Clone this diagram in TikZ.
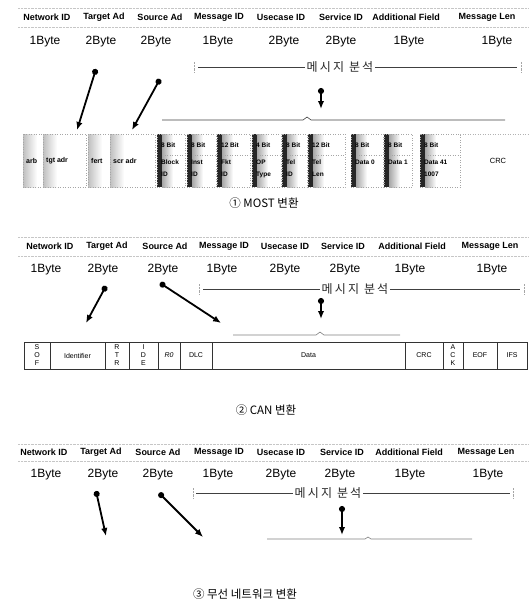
\documentclass[tikz,border=0pt]{standalone}
\usepackage{fontspec}
\setmainfont{Liberation Sans}
\newfontfamily\kr{Noto Sans CJK KR}
\newfontfamily\krsp[LetterSpace=18]{Noto Sans CJK KR}
\usetikzlibrary{arrows.meta}
\begin{document}
\begin{tikzpicture}[x=1pt,y=-1pt,
  hdr/.style={font=\bfseries\fontsize{9}{10}\selectfont, inner sep=0pt},
  byt/.style={font=\fontsize{12}{13}\selectfont, inner sep=0pt},
  msg/.style={font=\krsp\fontsize{12}{13}\selectfont, fill=white, inner sep=1.5pt, text=black!85},
  captxt/.style={font=\kr\fontsize{11.5}{13}\selectfont, inner sep=0pt},
  ptr/.style={line width=1.8pt, arrows={Circle[length=6pt]-Latex[length=8pt,width=6.5pt]}},
  brk/.style={line width=0.6pt, black!75},
  tickln/.style={gray!70, line width=0.4pt, densely dotted},
  mt/.style={font=\bfseries\fontsize{6.5}{12}\selectfont, inner sep=0pt, align=left},
  lt/.style={font=\bfseries\fontsize{7}{8}\selectfont, inner sep=0pt},
  ct/.style={font=\fontsize{7}{8}\selectfont, inner sep=0pt, align=center},
  hl/.style={gray!45, densely dotted, line width=0.4pt},
  cellbox/.style={draw=black!80, line width=0.7pt},
]
\useasboundingbox (0,0) rectangle (529,602);

% ================= Section 1 : MOST =================
\draw[hl] (18,8) -- (529,8);
\draw[hl] (18,27) -- (529,27);
\foreach \t/\x [count=\i] in {Network ID/47,Target Ad/104,Source Ad/160,Message ID/219,Usecase ID/281,Service ID/341,Additional Field/406,Message Len/487}
  \node[hdr] (h1-\i) at (\x,17) {\t};
\foreach \t/\x [count=\i] in {1Byte/45,2Byte/101,2Byte/156,1Byte/218,2Byte/284,2Byte/341,1Byte/409,1Byte/497}
  \node[byt] (b1-\i) at (\x,42) {\t};

\coordinate (l1) at (198,67);
\coordinate (r1) at (517,67);
\node[msg] (m1) at (340,67) {메시지 분석};
\draw[brk] (l1) -- (m1.west);
\draw[brk] (m1.east) -- (r1);
\draw[tickln] (194,62) -- (194,72);
\draw[tickln] (521,62) -- (521,72);

\coordinate (t1s) at (96,69);  \coordinate (t1e) at (77,130);
\coordinate (s1s) at (160,79); \coordinate (s1e) at (132,130);
\coordinate (c1s) at (321,88); \coordinate (c1e) at (321,109);
\draw[ptr] (t1s) -- (t1e);
\draw[ptr] (s1s) -- (s1e);
\draw[ptr] (c1s) -- (c1e);

\draw[brk] (162,120) -- (303,120) -- (307,117) -- (311,120) -- (505,120);

% light cells
\foreach \a/\b/\t [count=\i] in {23/43/arb,43/86/tgt adr,88/110/fert,110/155/scr adr}{
  \shade[left color=gray!50, right color=white] (\a,134) rectangle (\a+14,187);
  \draw[gray!70, dotted, line width=0.5pt] (\a,134) rectangle (\b,187);
  \node[lt, anchor=west] (lc-\i) at (\a+3,161) {\t};
}
% dark cells
\foreach \a/\b/\top/\bot [count=\i] in {157/185/8 Bit/{Block\\ID},187/216/8 Bit/{Inst\\ID},217/250/12 Bit/{Fkt\\ID},252/281/4 Bit/{OP\\Type},282/307/8 Bit/{Tel\\ID},308/345/12 Bit/{Tel\\Len},351/383/8 Bit/{Data 0},384/412/8 Bit/{Data 1},420/460/8 Bit/{Data 41\\1007}}{
  \shade[left color=gray!70, right color=white] (\a+5,134) rectangle (\a+16,187);
  \fill[black!85] (\a,134) rectangle (\a+5,187);
  \draw[gray!70, dotted, line width=0.5pt] (\a,134) rectangle (\b,187);
  \draw[gray!70, dotted, line width=0.5pt] (\a+5,155) -- (\b,155);
  \node[mt, anchor=west] (dt-\i) at (\a+4,145) {\top};
  \node[mt, anchor=north west] (db-\i) at (\a+4,160) {\bot};
}
\draw[gray!60, dotted, line width=0.5pt] (460,134) -- (529,134);
\node[lt, font=\fontsize{7.5}{8}\selectfont] (crc1) at (498,161) {CRC};

\node[captxt] (cap1) at (264,203) {① MOST 변환};

% ================= Section 2 : CAN =================
\draw[hl] (18,237) -- (529,237);
\draw[hl] (18,256) -- (529,256);
\foreach \t/\x [count=\i] in {Network ID/50,Target Ad/107,Source Ad/165,Message ID/224,Usecase ID/285,Service ID/343,Additional Field/412,Message Len/490}
  \node[hdr] (h2-\i) at (\x,246) {\t};
\foreach \t/\x [count=\i] in {1Byte/46,2Byte/103,2Byte/163,1Byte/222,2Byte/285,2Byte/345,1Byte/410,1Byte/492}
  \node[byt] (b2-\i) at (\x,270) {\t};

\coordinate (l2) at (203,289);
\coordinate (r2) at (520,289);
\node[msg] (m2) at (355,289) {메시지 분석};
\draw[brk] (l2) -- (m2.west);
\draw[brk] (m2.east) -- (r2);
\draw[tickln] (199,284) -- (199,294);
\draw[tickln] (524,284) -- (524,294);

\coordinate (t2s) at (106,286); \coordinate (t2e) at (86,323);
\coordinate (s2s) at (160,283); \coordinate (s2e) at (221,323);
\coordinate (c2s) at (321,298); \coordinate (c2e) at (321,319);
\draw[ptr] (t2s) -- (t2e);
\draw[ptr] (s2s) -- (s2e);
\draw[ptr] (c2s) -- (c2e);

\draw[brk, gray] (233,335) -- (316,335) -- (320,332) -- (324,335) -- (400,335);

\foreach \a/\b/\t [count=\i] in {24/50/{S\\O\\F},50/105/Identifier,105/129/{R\\T\\R},129/158/{I\\D\\E},158/180/{\itshape R0},180/212/DLC,212/405/Data,405/443/CRC,443/463/{A\\C\\K},463/497/EOF,497/527/IFS}{
  \draw[cellbox] (\a,342) rectangle (\b,369);
  \node[ct] (cn-\i) at ({(\a+\b)/2},355.5) {\t};
}

\node[captxt] (cap2) at (266,410) {② CAN 변환};

% ================= Section 3 : Wireless =================
\draw[hl] (18,444) -- (529,444);
\draw[hl] (18,461) -- (529,461);
\foreach \t/\x [count=\i] in {Network ID/44,Target Ad/101,Source Ad/158,Message ID/219,Usecase ID/281,Service ID/342,Additional Field/409,Message Len/486}
  \node[hdr] (h3-\i) at (\x,452) {\t};
\foreach \t/\x [count=\i] in {1Byte/46,2Byte/103,2Byte/158,1Byte/218,2Byte/281,2Byte/340,1Byte/410,1Byte/488}
  \node[byt] (b3-\i) at (\x,475) {\t};

\coordinate (l3) at (196,493);
\coordinate (r3) at (510,493);
\node[msg] (m3) at (328,493) {메시지 분석};
\draw[brk] (l3) -- (m3.west);
\draw[brk] (m3.east) -- (r3);
\draw[tickln] (193,488) -- (193,498);
\draw[tickln] (513,488) -- (513,498);

\coordinate (t3s) at (96,491);  \coordinate (t3e) at (106,536);
\coordinate (s3s) at (159,493); \coordinate (s3e) at (203,537);
\coordinate (c3s) at (342,506); \coordinate (c3e) at (342,535);
\draw[ptr] (t3s) -- (t3e);
\draw[ptr] (s3s) -- (s3e);
\draw[ptr] (c3s) -- (c3e);

\draw[brk, gray] (267,539) -- (365,539) -- (368,537) -- (371,539) -- (472,539);

\node[captxt] (cap3) at (245,594) {③ 무선 네트워크 변환};
\end{tikzpicture}
\end{document}
